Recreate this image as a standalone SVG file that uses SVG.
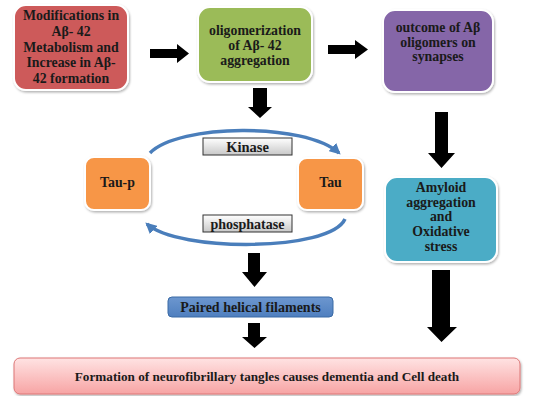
<svg xmlns="http://www.w3.org/2000/svg" width="541" height="396" viewBox="0 0 541 396">
<defs>
<filter id="sh" x="-10%" y="-10%" width="130%" height="130%">
<feDropShadow dx="1" dy="1.5" stdDeviation="1.2" flood-color="#000" flood-opacity="0.3"/>
</filter>
<linearGradient id="gGray" x1="0" y1="0" x2="0" y2="1">
<stop offset="0" stop-color="#ffffff"/><stop offset="1" stop-color="#c8c8c8"/>
</linearGradient>
<linearGradient id="gPink" x1="0" y1="0" x2="0" y2="1">
<stop offset="0" stop-color="#ffe3e3"/><stop offset="1" stop-color="#f7a4a4"/>
</linearGradient>
<linearGradient id="gBlue" x1="0" y1="0" x2="0" y2="1">
<stop offset="0" stop-color="#6d97cf"/><stop offset="1" stop-color="#4f7fbf"/>
</linearGradient>
<marker id="ah" viewBox="0 0 10 10" refX="8" refY="5" markerWidth="3.2" markerHeight="3.2" orient="auto" markerUnits="strokeWidth">
<path d="M0,0 L10,5 L0,10 z" fill="#4a7ebb"/>
</marker>
</defs>
<style>
text{font-family:"Liberation Serif","Times New Roman",serif;font-weight:bold;fill:#1a1a1a;text-anchor:middle}
.box{stroke:#ffffff;stroke-width:2;filter:url(#sh)}
.t{font-size:13.8px}
.arc{fill:none;stroke:#4a7ebb;stroke-width:3.5;marker-end:url(#ah)}
.blk{fill:#000}
</style>
<rect width="541" height="396" fill="#ffffff"/>

<g id="connectors">
<path class="blk" d="M150,49 H177 V44 L189,53.5 L177,63 V58 H150 z"/>
<path class="blk" d="M328,45 H355 V40 L368,49.5 L355,59 V54 H328 z"/>
<path class="blk" d="M253,88 V107 H248 L260,118 L272,107 H267 V88 z"/>
<path class="blk" d="M435,112 V153 H428 L441.5,168 L455,153 H448 V112 z"/>
<path class="blk" d="M432,270 V327 H427 L441.5,342 L457,327 H450 V270 z"/>
<path class="blk" d="M248,253 V272 H242 L254.5,287 L267,272 H260 V253 z"/>
<path class="blk" d="M248,323 V337 H242 L254.5,348 L267,337 H260 V323 z"/>
<path class="arc" d="M150,153 C178,124 305,122 339,153"/>
<path class="arc" d="M345,219 C330,252 178,252 147,224"/>
</g>

<g id="n-modifications">
<rect class="box" x="14" y="5" width="114" height="85" rx="12" fill="#cd5a5a"/>
<text class="t" x="71" y="20">Modifications in</text>
<text class="t" x="71" y="35.5">Aβ-  42</text>
<text class="t" x="71" y="51.5">Metabolism and</text>
<text class="t" x="71" y="67">Increase in Aβ-</text>
<text class="t" x="71" y="82.5">42 formation</text>
</g>

<g id="n-oligomerization">
<rect class="box" x="198" y="7" width="114" height="75" rx="12" fill="#9bbb59"/>
<text class="t" x="255" y="35">oligomerization</text>
<text class="t" x="255" y="50">of Aβ-  42</text>
<text class="t" x="255" y="65">aggregation</text>
</g>

<g id="n-outcome">
<rect class="box" x="383" y="10" width="110" height="82" rx="12" fill="#8566a8"/>
<text class="t" x="438" y="32">outcome of Aβ</text>
<text class="t" x="438" y="47">oligomers on</text>
<text class="t" x="438" y="61">synapses</text>
</g>

<g id="n-amyloid">
<rect class="box" x="385" y="177" width="112" height="85" rx="12" fill="#4bacc6"/>
<text class="t" x="441" y="192">Amyloid</text>
<text class="t" x="441" y="207">aggregation</text>
<text class="t" x="441" y="221">and</text>
<text class="t" x="441" y="236">Oxidative</text>
<text class="t" x="441" y="251">stress</text>
</g>

<g id="n-taup">
<rect class="box" x="85" y="157" width="65" height="53" rx="9" fill="#f79646"/>
<text class="t" x="117.5" y="187">Tau-p</text>
</g>

<g id="n-tau">
<rect class="box" x="298" y="158" width="65" height="52" rx="9" fill="#f79646"/>
<text class="t" x="330.5" y="187">Tau</text>
</g>

<g id="n-kinase">
<rect x="203" y="138" width="89" height="17" fill="url(#gGray)" stroke="#333" stroke-width="1"/>
<text x="247.5" y="152" font-size="14.5">Kinase</text>
</g>

<g id="n-phosphatase">
<rect x="203" y="215" width="89" height="17" fill="url(#gGray)" stroke="#333" stroke-width="1"/>
<text x="247.5" y="229" font-size="14">phosphatase</text>
</g>

<g id="n-phf">
<rect x="168" y="297" width="165" height="20" rx="4" fill="url(#gBlue)" stroke="#3a6aa5" stroke-width="1"/>
<text x="250.5" y="312" font-size="14">Paired helical filaments</text>
</g>

<g id="n-formation">
<rect x="14" y="358" width="506" height="36" rx="6" fill="url(#gPink)" stroke="#d77" stroke-width="1" filter="url(#sh)"/>
<text x="267" y="380.5" font-size="13.2">Formation of neurofibrillary tangles causes dementia and Cell death</text>
</g>
</svg>
